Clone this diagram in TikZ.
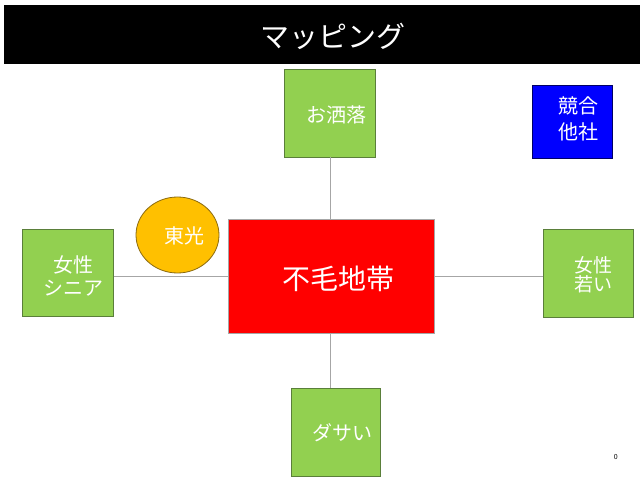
\documentclass[tikz,border=0pt]{standalone}
\usepackage{fontspec}
\setmainfont{Noto Sans CJK JP}
\usetikzlibrary{shapes.geometric}
\begin{document}
\begin{tikzpicture}[x=1pt,y=-1pt,
  box/.style={draw, line width=0.8pt, inner sep=0pt, anchor=north west},
  gbox/.style={box, fill=gfill, draw=gdraw},
  lbl/.style={text=white, inner sep=0pt, font=\fontsize{20}{22}\selectfont, align=center},
  conn/.style={draw=linegray, line width=1.5pt}]
\definecolor{gfill}{HTML}{92D050}
\definecolor{gdraw}{HTML}{5A7F3A}
\definecolor{linegray}{HTML}{A6A6A6}
\definecolor{orfill}{HTML}{FFC000}
\definecolor{ordraw}{HTML}{8A6A10}
\useasboundingbox (0,0) rectangle (640,489);
\fill[white] (0,0) rectangle (640,489);
% title bar
\node[box, draw=none, fill=black, minimum width=636pt, minimum height=59pt] (title) at (4,5) {};
\node[text=white, inner sep=0pt, font=\fontsize{29}{32}\selectfont] (ttext) at (333,36) {マッピング};
% boxes
\node[gbox, minimum width=90.7pt, minimum height=87.4pt] (top) at (284.3,69.3) {};
\node[box, fill=red, draw=gray!70, minimum width=206pt, minimum height=113.4pt] (center) at (228.3,219.3) {};
\node[gbox, minimum width=90.7pt, minimum height=87pt] (left) at (22,229) {};
\node[gbox, minimum width=90pt, minimum height=87.7pt] (right) at (542.7,229) {};
\node[gbox, minimum width=89.3pt, minimum height=87.4pt] (bottom) at (290.7,388.3) {};
\node[box, fill=blue, draw=blue!40!black, minimum width=79.4pt, minimum height=72.7pt] (comp) at (532.3,85) {};
\node[ellipse, draw=ordraw, fill=orfill, line width=0.8pt, minimum width=83pt, minimum height=76pt, inner sep=0pt] (toko) at (177.5,235) {};
% connectors
\coordinate (vx) at (330.3,0);
\draw[conn] (top.south -| vx) -- (center.north -| vx);
\draw[conn] (center.south -| vx) -- (bottom.north -| vx);
\coordinate (hy) at (0,276.7);
\draw[conn] (left.east |- hy) -- (center.west |- hy);
\draw[conn] (center.east |- hy) -- (right.west |- hy);
% labels
\node[lbl] (ttop) at (336.5,115) {お洒落};
\node[lbl, font=\fontsize{28}{32}\selectfont] (tcenter) at (338,279) {不毛地帯};
\node[lbl, font=\fontsize{20}{23}\selectfont] (tleft) at (73,275.5) {女性\\シニア};
\node[lbl, font=\fontsize{19}{19}\selectfont] (tright) at (593.5,274.5) {女性\\若い};
\node[lbl] (tbottom) at (342.5,433) {ダサい};
\node[lbl, font=\fontsize{20}{26}\selectfont] (tcomp) at (578,118.5) {競合\\他社};
\node[lbl] (ttoko) at (184,236) {東光};
\node[inner sep=0pt, font=\fontsize{7}{8}\selectfont] (pnum) at (615.7,457) {0};
\end{tikzpicture}
\end{document}
